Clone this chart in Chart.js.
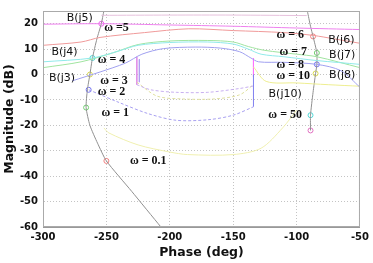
<!DOCTYPE html>
<html>
<head>
<meta charset="utf-8">
<script src="https://cdn.jsdelivr.net/npm/chart.js@4/dist/chart.umd.min.js"></script>
<style>
  html, body { margin: 0; padding: 0; background: #fff; }
</style>
</head>
<body>
<canvas id="nichols" width="373" height="263"></canvas>
<script>
// open-loop curve L(jw), [phase, magnitude]
const lLeft = [[-207, -60], [-230, -46], [-250, -34], [-257, -27], [-263, -20], [-266, -13],
  [-265, -6], [-263, 0], [-261, 6.5], [-257.5, 14], [-254, 20], [-252, 25]];
const lRight = [[-91.5, 25], [-89, 19], [-87, 15], [-84, 8.5], [-84, 4], [-85, 0.4],
  [-87, -7], [-89, -16], [-89, -22]];

// frequency markers on L(jw)
const markerPts = [[-250, -34], [-266, -13], [-264, -6], [-263, 0], [-261, 6.5], [-254, 20],
  [-87, 15], [-84, 8.5], [-84, 4], [-85, 0.4], [-89, -16], [-89, -22]];
const markerColors = ["#f08080", "#70d070", "#7070f0", "#d8d850", "#50d8d8", "#f060f0",
  "#f08080", "#70d070", "#7070f0", "#d8d850", "#50d8d8", "#e070c0"];

// bounds B(jw)
const bj5 = [[-300, 19.8], [-254, 20], [-200, 19.5], [-150, 19], [-100, 18.3], [-50, 17.7]];
const bj5Top = [[-254, 23.3], [-200, 23.4], [-150, 23.4], [-92, 23.2]];
const bj6 = [[-300, 11.5], [-270, 12.8], [-255, 14.6], [-220, 16.5], [-185, 18], [-150, 17.3],
  [-110, 16.5], [-87, 15.4], [-70, 14], [-50, 12.3]];
const bj4 = [[-300, 5], [-261, 6.5], [-240, 9.3], [-225, 11.5], [-200, 12.6], [-170, 12.8],
  [-150, 12], [-138, 10], [-128, 8], [-110, 7], [-84, 5.5], [-50, 4]];
const bj7 = [[-300, 2.7], [-270, 5], [-245, 8.5], [-225, 11.8], [-200, 13.2], [-170, 13.4],
  [-150, 12.8], [-138, 11], [-125, 9.5], [-100, 8], [-84, 7], [-50, 2.7]];
const bj8 = [[-277, -2.5], [-255, 1], [-235, 4.5], [-222, 8], [-205, 10.2], [-180, 10.8],
  [-160, 10.4], [-145, 9], [-136, 6.5], [-130, 5], [-110, 4.8], [-84, 4], [-65, 1.5], [-50, -5]];
const bj10 = [[-134, 3], [-124, -2.7], [-100, -3.3], [-75, -4], [-50, -4.6]];
const bj2 = [[-264, -6], [-240, -11], [-217, -15.4], [-195, -18], [-170, -17.8], [-150, -16], [-134, -12.7]];
const bj2Side = [[-134, -12.7], [-134, 0]];
const bj1 = [[-252, -21], [-248, -23], [-225, -27.7], [-200, -30.5], [-186, -31.5], [-150, -31.5],
  [-128, -29], [-111, -21], [-100, -14]];
const innerLow = [[-226, -4], [-215, -6], [-195, -7], [-170, -7], [-145, -5.5], [-134, -4.5]];
const innerYellow = [[-226, -3], [-210, -8.5], [-190, -9.6], [-165, -9.6], [-145, -8], [-134, -4]];
const innerRight = [[-134, 6.5], [-134, -1]];
const innerLeft = [[-226, 7], [-226, -4]];
const innerLeft2 = [[-224, 6], [-224, -3]];

// text labels
const labelText = ["B(j5)", "B(j4)", "B(j3)", "B(j6)", "B(j7)", "B(j8)", "B(j10)"];
const labelPhase = [-271, -283, -285, -64.7, -64, -64, -109];
const labelMag = [22.3, 8.8, -1.5, 13.5, 7.7, -0.4, -7.7];
const omegaText = ["\u03c9 =5", "\u03c9 = 4", "\u03c9 = 3", "\u03c9 = 2", "\u03c9 = 1", "\u03c9 = 0.1",
  "\u03c9 = 6", "\u03c9 = 7", "\u03c9 = 8", "\u03c9 = 10", "\u03c9 = 50"];
const omegaPhase = [-242, -246, -244, -246, -243, -217, -105, -102.6, -105, -102.6, -109];
const omegaMag = [18.5, 5.8, -2.7, -7, -15, -34, 15.4, 8.8, 3.8, -0.4, -16];

const xTicks = [-300, -250, -200, -150, -100, -50];

function curve(pts, color, dash, tension) {
  return {
    data: pts.map(p => ({ x: p[0], y: p[1] })),
    showLine: true,
    borderColor: color,
    borderWidth: 1,
    borderDash: dash || [],
    pointRadius: 0,
    tension: tension === undefined ? 0.3 : tension,
    fill: false
  };
}

const datasets = [
  curve(bj5, "#ee80ee"),
  curve(bj5Top, "#e6c0dc"),
  curve(bj6, "#f09a9a"),
  curve(bj4, "#90eaea"),
  curve(bj7, "#a0e4a0"),
  curve(bj8, "#a0a0f0"),
  curve(bj10, "#eeee90"),
  curve(bj2, "#a8a0f0", [3, 2]),
  curve(bj2Side, "#8080f0", [], 0),
  curve(bj1, "#f0f0b0"),
  curve(innerLow, "#c8b0f0", [3, 2]),
  curve(innerYellow, "#e0e0a0", [3, 2]),
  curve(innerRight, "#ff70ff", [], 0),
  curve(innerLeft, "#e090e8", [], 0),
  curve(innerLeft2, "#b0a0f0", [], 0),
  curve(lLeft, "#909090", [], 0.2),
  curve(lRight, "#909090", [], 0.2),
  {
    data: markerPts.map(p => ({ x: p[0], y: p[1] })),
    showLine: false,
    pointRadius: 2.5,
    pointBorderWidth: 1,
    pointBackgroundColor: "rgba(0,0,0,0)",
    pointBorderColor: markerColors
  }
];

const textPlugin = {
  id: "texts",
  afterDatasetsDraw(chart) {
    const { ctx, chartArea, scales } = chart;
    ctx.save();
    ctx.strokeStyle = "#aaaaaa";
    ctx.lineWidth = 1;
    ctx.strokeRect(chartArea.left + 0.5, chartArea.top + 0.5,
      chartArea.right - chartArea.left - 1, chartArea.bottom - chartArea.top - 1);
    ctx.fillStyle = "#111";
    ctx.textAlign = "center";
    ctx.textBaseline = "middle";
    ctx.font = "11px 'DejaVu Sans'";
    labelText.forEach((t, i) => {
      ctx.fillText(t, scales.x.getPixelForValue(labelPhase[i]), scales.y.getPixelForValue(labelMag[i]));
    });
    ctx.font = "bold 12px 'Liberation Serif'";
    omegaText.forEach((t, i) => {
      ctx.fillText(t, scales.x.getPixelForValue(omegaPhase[i]), scales.y.getPixelForValue(omegaMag[i]));
    });
    ctx.restore();
  }
};

const config = {
  type: "scatter",
  data: { datasets: datasets },
  options: {
    responsive: false,
    animation: false,
    layout: { padding: { top: 4, right: 7, left: 0, bottom: 0 } },
    plugins: { legend: { display: false }, tooltip: { enabled: false } },
    scales: {
      x: {
        type: "linear",
        min: -300,
        max: -50,
        afterBuildTicks: (scale) => { scale.ticks = xTicks.map(v => ({ value: v })); },
        afterFit: (scale) => { scale.height = 36; },
        ticks: { padding: 4, color: "#111", font: { family: "DejaVu Sans", size: 10, weight: "bold" } },
        grid: { color: "#c4c4c4", drawTicks: false },
        border: { color: "#999", dash: [1, 2] },
        title: { display: true, text: "Phase (deg)", color: "#111", padding: { top: 0, bottom: 3 },
          font: { family: "DejaVu Sans", size: 12.5, weight: "bold" } }
      },
      y: {
        min: -60,
        max: 25,
        afterFit: (scale) => { scale.width = 43; },
        ticks: {
          stepSize: 10,
          padding: 5,
          color: "#111",
          font: { family: "DejaVu Sans", size: 10, weight: "bold" },
          callback: (v) => (v % 10 === 0 ? v : "")
        },
        grid: { color: "#c4c4c4", drawTicks: false },
        border: { color: "#999", dash: [1, 2] },
        title: { display: true, text: "Magnitude (dB)", color: "#111", padding: { top: 2, bottom: 0 },
          font: { family: "DejaVu Sans", size: 12.5, weight: "bold" } }
      }
    }
  },
  plugins: [textPlugin]
};

const nicholsChart = new Chart(document.getElementById("nichols"), config);
</script>
</body>
</html>
